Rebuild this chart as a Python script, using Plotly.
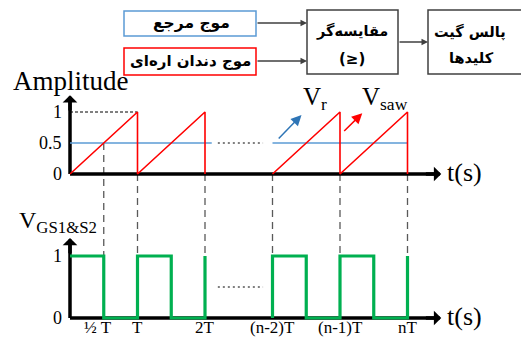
import plotly.graph_objects as go

# ---------------- data ----------------
saw_t = [0, 1, 1, 2, 2, None, 3, 4, 4, 5, 5]
saw_v = [0, 1, 0, 1, 0, None, 0, 1, 0, 1, 0]
ref_t = [0, 2.1, None, 3, 5]
ref_v = [0.5, 0.5, None, 0.5, 0.5]
gate_t = [0, 0.5, 0.5, 1, 1, 1.5, 1.5, 2, 2, None,
          3, 3, 3.5, 3.5, 4, 4, 4.5, 4.5, 5, 5]
gate_v = [1, 1, 0, 0, 1, 1, 0, 0, 1, None,
          0, 1, 1, 0, 0, 1, 1, 0, 0, 1]
time_ticks = [0.5, 1, 2, 3, 4, 5]
time_labels = ["½ T", "T", "2T", "(n-2)T", "(n-1)T", "nT"]
guide_start = [0.5, 0, 0, 0, 0, 0]
amp_ticks = [0, 0.5, 1]
amp_labels = ["0", "0.5", "1"]
gate_ticks = [0, 1]
gate_labels = ["0", "1"]
gap_from, gap_to = 2.19, 2.86   # "......" continuation between 2T and (n-2)T

# ---------------- layout constants ----------------
W, H = 521, 338
X0PX, TPX = 70, 67.5          # pixel of t=0, pixels per period
TOP0PX, BOT0PX, UPX = 174, 318, 62
xr = [-X0PX / TPX, (W - X0PX) / TPX]
yr = [(TOP0PX - H) / UPX, TOP0PX / UPX]
GATE_BASE = (TOP0PX - BOT0PX) / UPX


def gshift(vals):
    return [None if v is None else GATE_BASE + v for v in vals]


def px(x):
    return x / W


def py(y):
    return 1 - y / H


SERIF = "Liberation Serif, Times New Roman, serif"
FA = "DejaVu Sans, sans-serif"
RED = "#FF0000"
BLUE = "#5B9BD5"
GREEN = "#00B050"
GRAY = "#595959"

fig = go.Figure()

# dashed guide lines
gx, gy = [], []
for t, s in zip(time_ticks, guide_start):
    gx += [t, t, None]
    gy += [s, GATE_BASE + 1, None]
fig.add_trace(go.Scatter(x=gx, y=gy, mode="lines",
                         line=dict(color=GRAY, width=1.3, dash="7px,5px")))

# axes lines (top & bottom)
axis_x_end = 5.45
fig.add_trace(go.Scatter(x=[0, 0, None, 0, axis_x_end], y=[1.22, 0, None, 0, 0], mode="lines",
                         line=dict(color="black", width=3.5)))
fig.add_trace(go.Scatter(x=[0, 0, None, 0, axis_x_end],
                         y=[GATE_BASE + 1.24, GATE_BASE, None, GATE_BASE, GATE_BASE],
                         mode="lines", line=dict(color="black", width=3.5)))

# dotted helper lines
fig.add_trace(go.Scatter(x=[0, 1], y=[1, 1], mode="lines",
                         line=dict(color="black", width=1, dash="3px,2px")))
fig.add_trace(go.Scatter(x=[gap_from, gap_to, None, gap_from, gap_to],
                         y=[0.5, 0.5, None, GATE_BASE + 0.5, GATE_BASE + 0.5], mode="lines",
                         line=dict(color="black", width=1, dash="2px,3px")))

# reference and sawtooth
fig.add_trace(go.Scatter(x=ref_t, y=ref_v, mode="lines", line=dict(color=BLUE, width=1.6)))
fig.add_trace(go.Scatter(x=saw_t, y=saw_v, mode="lines", line=dict(color=RED, width=1.6)))

# gate pulses
fig.add_trace(go.Scatter(x=gate_t, y=gshift(gate_v), mode="lines",
                         line=dict(color=GREEN, width=3.2)))

ann = []
# axis arrowheads
for (x, y, ax, ay) in [(axis_x_end + 0.05, 0, axis_x_end - 0.2, 0),
                       (0, 1.27, 0, 1.0),
                       (axis_x_end + 0.05, GATE_BASE, axis_x_end - 0.2, GATE_BASE),
                       (0, GATE_BASE + 1.29, 0, GATE_BASE + 1.02)]:
    ann.append(dict(x=x, y=y, ax=ax, ay=ay, xref="x", yref="y", axref="x", ayref="y",
                    showarrow=True, arrowhead=1, arrowwidth=3.5, arrowsize=0.7,
                    arrowcolor="black", text=""))

# tick labels
for v, lab in zip(amp_ticks, amp_labels):
    ann.append(dict(x=-0.09, y=v, xref="x", yref="y", text=lab, showarrow=False,
                    xanchor="right", yanchor="middle", font=dict(family=SERIF, size=18, color="black")))
for v, lab in zip(gate_ticks, gate_labels):
    ann.append(dict(x=-0.09, y=GATE_BASE + v, xref="x", yref="y", text=lab, showarrow=False,
                    xanchor="right", yanchor="middle", font=dict(family=SERIF, size=18, color="black")))
for t, lab in zip(time_ticks, time_labels):
    ann.append(dict(x=t, y=0, xref="x", yref="paper", text=lab, showarrow=False,
                    xanchor="center", yanchor="bottom", xshift=-6 if t == 0.5 else 0, yshift=-1,
                    font=dict(family=SERIF, size=17, color="black")))

# axis titles
ann.append(dict(x=px(71), y=py(81), xref="paper", yref="paper", text="Amplitude",
                showarrow=False, xanchor="center", yanchor="middle",
                font=dict(family=SERIF, size=27, color="black")))
ann.append(dict(x=px(17), y=py(222), xref="paper", yref="paper", text="V<sub>GS1&S2</sub>",
                showarrow=False, xanchor="left", yanchor="middle",
                font=dict(family=SERIF, size=24, color="black")))
for yv in [0, GATE_BASE]:
    ann.append(dict(x=axis_x_end + 0.1, y=yv, xref="x", yref="y", text="t(s)",
                    showarrow=False, xanchor="left", yanchor="middle", yshift=2,
                    font=dict(family=SERIF, size=26, color="black")))

# series labels with arrows
ann.append(dict(x=3.43, y=0.95, ax=3.07, ay=0.55, xref="x", yref="y", axref="x", ayref="y",
                showarrow=True, arrowhead=2, arrowwidth=1.5, arrowsize=1.4, arrowcolor="#2E75B6", text=""))
ann.append(dict(x=4.33, y=0.98, ax=4.04, ay=0.67, xref="x", yref="y", axref="x", ayref="y",
                showarrow=True, arrowhead=2, arrowwidth=1.5, arrowsize=1.4, arrowcolor=RED, text=""))
ann.append(dict(x=3.42, y=1.22, xref="x", yref="y", text="V<sub>r</sub>", showarrow=False,
                xanchor="left", yanchor="middle", font=dict(family=SERIF, size=25, color="black")))
ann.append(dict(x=4.3, y=1.22, xref="x", yref="y", text="V<sub>saw</sub>", showarrow=False,
                xanchor="left", yanchor="middle", font=dict(family=SERIF, size=25, color="black")))

# ---------------- block diagram ----------------
shapes = []
boxes = [
    (124, 11, 256, 36, BLUE),
    (124, 48, 256, 75, RED),
    (307, 10, 398, 74, "#404040"),
    (428, 10, 530, 74, "#404040"),
]
for x0, y0, x1, y1, c in boxes:
    shapes.append(dict(type="rect", xref="paper", yref="paper",
                       x0=px(x0), x1=px(x1), y0=py(y1), y1=py(y0),
                       line=dict(color=c, width=1.5), fillcolor="white"))

for (x0, x1, y) in [(256, 307, 23), (256, 307, 61), (398, 428, 42)]:
    ann.append(dict(x=px(x1), y=py(y), ax=-(x1 - x0), ay=0, xref="paper", yref="paper",
                    axref="pixel", ayref="pixel", showarrow=True, arrowhead=2, arrowsize=1,
                    arrowwidth=1.3, arrowcolor="#404040", text=""))

fa_texts = [
    (191, 23, "موج مرجع", 15.5),
    (190, 61, "موج دندان اره\u200cای", 15),
    (352, 31, "مقایسه\u200cگر", 14.5),
    (352, 59, "(≥)", 15),
    (470, 32, "پالس گیت", 14.5),
    (471, 58, "کلیدها", 14.5),
]
for x, y, t, s in fa_texts:
    ann.append(dict(x=px(x), y=py(y), xref="paper", yref="paper", text="<b>" + t + "</b>",
                    showarrow=False, xanchor="center", yanchor="middle",
                    font=dict(family=FA, size=s, color="black")))

fig.update_layout(
    width=W, height=H, margin=dict(l=0, r=0, t=0, b=0),
    paper_bgcolor="white", plot_bgcolor="white", showlegend=False,
    xaxis=dict(range=xr, visible=False, fixedrange=True),
    yaxis=dict(range=yr, visible=False, fixedrange=True),
    shapes=shapes, annotations=ann,
)
fig.write_html("out.html")
